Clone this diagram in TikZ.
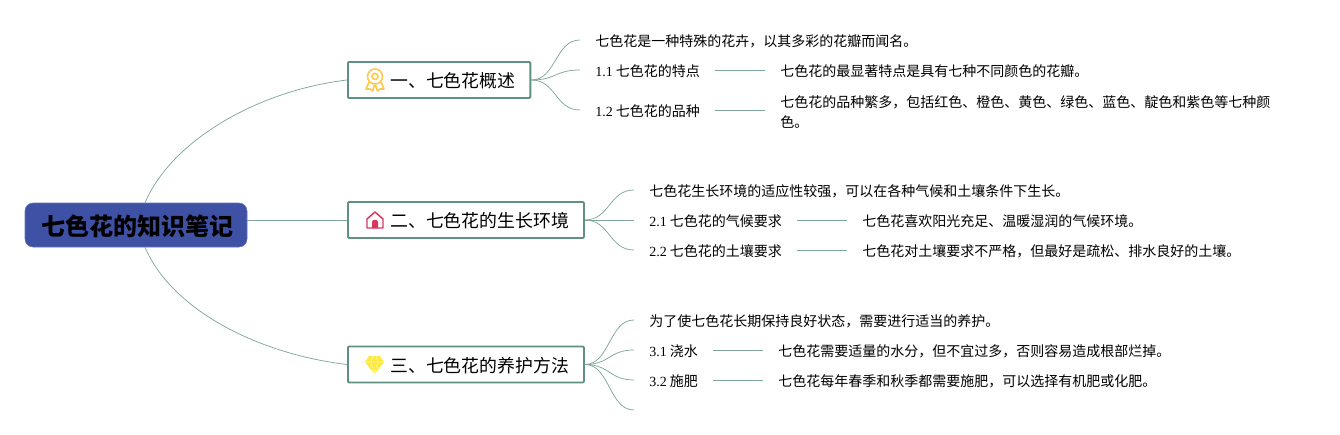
\documentclass[tikz,border=0pt]{standalone}
\usepackage{fontspec}
\setmainfont{Liberation Serif}
\newfontfamily\cjk{Noto Sans CJK SC}
\definecolor{branch}{HTML}{5F9080}
\definecolor{rootblue}{HTML}{3F51A5}
\definecolor{medal}{HTML}{FFC94D}
\definecolor{house}{HTML}{D9365E}
\definecolor{gem}{HTML}{FFE93B}
\newcommand{\secno}[1]{{\rmfamily #1}}

\begin{document}
\begin{tikzpicture}[x=0.75pt,y=-0.75pt,
    link/.style={draw=branch!80,line width=0.55pt},
    medalicon/.style={draw=medal,line width=1.2pt},
    houseicon/.style={draw=house,line width=1.1pt}]

    % `root' is the title box, `topic' the three boxes beside it.
    % `leaf' and `detail' are the plain texts; their side space is where links stop.
    \tikzstyle{root} = [fill=rootblue,draw=rootblue!80,rounded corners=6pt,minimum width=166.5pt,minimum height=33pt,inner sep=0pt,text height=18pt,text depth=2.8pt,font=\cjk\bfseries\fontsize{18}{22}\selectfont]
    \tikzstyle{topic} = [draw=branch,line width=1.4pt,rounded corners=0.8pt,anchor=west,minimum height=27pt,inner xsep=11.25pt,inner ysep=0pt,text height=14pt,text depth=2.7pt,font=\cjk\fontsize{13.4}{17}\selectfont]
    \tikzstyle{detail} = [anchor=west,inner xsep=11.25pt,inner ysep=0pt,align=left,font=\cjk\fontsize{10.5}{15}\selectfont]
    \tikzstyle{leaf} = [detail,text height=11.5pt,text depth=2.4pt]

    \useasboundingbox (0,0) rectangle (1340,435);

    \node[root] (root) at (136,225) {\hspace{2pt}七色花的知识笔记};

    \node[topic] (topic1) at (347,80) {\hspace{20.5pt}一、七色花概述};
    \node[topic] (topic2) at (347,220) {\hspace{20.5pt}二、七色花的生长环境};
    \node[topic] (topic3) at (347,364.5) {\hspace{20.5pt}三、七色花的养护方法};

    % First topic.
    \node[leaf] (intro1) at (580,40) {七色花是一种特殊的花卉，以其多彩的花瓣而闻名。};
    \node[leaf] (leaf11) at (580,70) {\secno{1.1} 七色花的特点};
    \node[leaf] (leaf12) at (580,110) {\secno{1.2} 七色花的品种};
    \node[leaf] (detail11) at (765,70) {七色花的最显著特点是具有七种不同颜色的花瓣。};
    \node[detail] (detail12) at (765,112) {七色花的品种繁多，包括红色、橙色、黄色、绿色、蓝色、靛色和紫色等七种颜\\色。};

    % Second topic.
    \node[leaf] (intro2) at (634,190) {七色花生长环境的适应性较强，可以在各种气候和土壤条件下生长。};
    \node[leaf] (leaf21) at (634,220) {\secno{2.1} 七色花的气候要求};
    \node[leaf] (leaf22) at (634,250) {\secno{2.2} 七色花的土壤要求};
    \node[leaf] (detail21) at (847,220) {七色花喜欢阳光充足、温暖湿润的气候环境。};
    \node[leaf] (detail22) at (847,250) {七色花对土壤要求不严格，但最好是疏松、排水良好的土壤。};

    % Third topic.
    \node[leaf] (intro3) at (634,320) {为了使七色花长期保持良好状态，需要进行适当的养护。};
    \node[leaf] (leaf31) at (634,350) {\secno{3.1} 浇水};
    \node[leaf] (leaf32) at (634,380) {\secno{3.2} 施肥};
    \coordinate (end33) at (634,410);
    \node[leaf] (detail31) at (763,350) {七色花需要适量的水分，但不宜过多，否则容易造成根部烂掉。};
    \node[leaf] (detail32) at (763,380) {七色花每年春季和秋季都需要施肥，可以选择有机肥或化肥。};

    % Draw links.
    \draw[link] ([xshift=6.75pt]root.north) .. controls +(28,-65) and +(-85,10) .. (topic1.west);
    \draw[link] ([yshift=3.75pt]root.east) -- (topic2.west);
    \draw[link] ([xshift=6.75pt]root.south) .. controls +(28,65) and +(-85,-10) .. (topic3.west);
    \foreach \top/\leaf in {topic1/intro1,topic1/leaf11,topic1/leaf12,
                            topic2/intro2,topic2/leaf21,topic2/leaf22,
                            topic3/intro3,topic3/leaf31,topic3/leaf32}
      \draw[link] (\top.east) .. controls +(25,0) and +(-25,0) .. (\leaf.west);
    \draw[link] (topic3.east) .. controls +(25,0) and +(-25,0) .. (end33);
    \foreach \leaf/\info in {leaf11/detail11,leaf12/detail12,leaf21/detail21,
                             leaf22/detail22,leaf31/detail31,leaf32/detail32}
      \draw[link] (\leaf.east |- \leaf.west) -- (\info.west |- \leaf.west);

    % Icons.
    \begin{scope}[shift={(375,80)}]
      \draw[medalicon] (0,-3.5) circle (7.5);
      \draw[medalicon] (0,-3.5) circle (3);
      \draw[medalicon,line join=round] (-6,2) -- (-9,9) -- (-5,9) -- (-2.5,11) -- (-0.5,5);
      \draw[medalicon,line join=round] (6,2) -- (9,9) -- (5,9) -- (2.5,11) -- (0.5,5);
    \end{scope}
    \begin{scope}[shift={(375,220)}]
      \draw[houseicon,line join=round] (-8,8) -- (-8,-1) -- (0,-8) -- (8,-1) -- (8,8) -- cycle;
      \fill[house] (-3,8) -- (-3,2) .. controls (-3,-1) and (3,-1) .. (3,2) -- (3,8) -- cycle;
    \end{scope}
    \begin{scope}[shift={(374.5,365)}]
      \fill[gem] (-5.5,-9) -- (5.5,-9) -- (9.5,-3) -- (0,9) -- (-9.5,-3) -- cycle;
      \draw[gem!45,line width=0.5pt] (-9.5,-3) -- (9.5,-3) (-3.5,-3) -- (0,9) -- (3.5,-3) (-3.5,-3) -- (-1.5,-9) (3.5,-3) -- (1.5,-9);
    \end{scope}
\end{tikzpicture}
\end{document}
